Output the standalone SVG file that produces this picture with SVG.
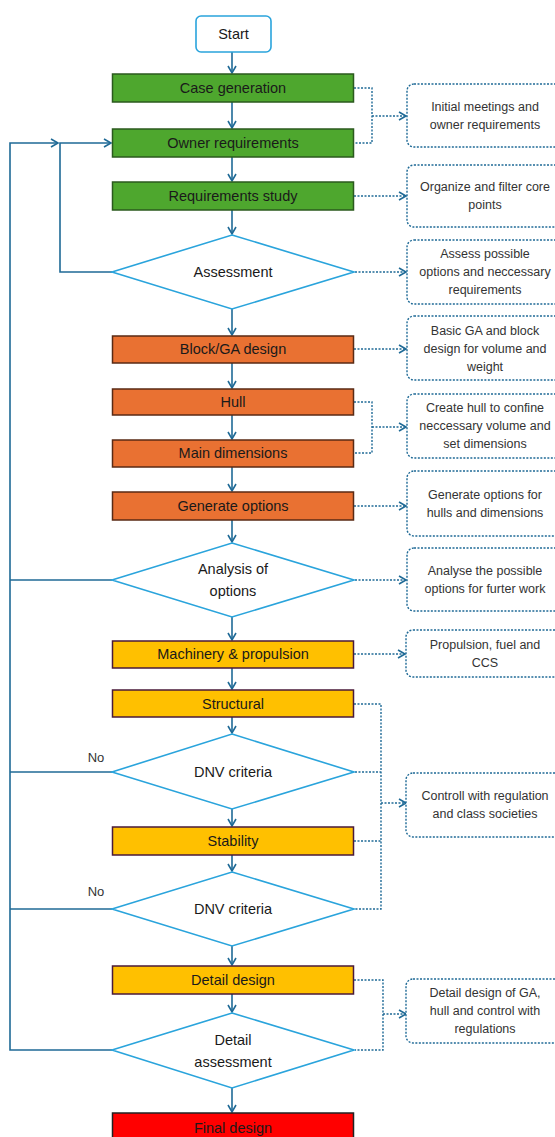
<svg xmlns="http://www.w3.org/2000/svg" width="555" height="1137" viewBox="0 0 555 1137">
<style>
text{font-family:"Liberation Sans",Arial,sans-serif;fill:#1a1a1a;text-anchor:middle}
.t{font-size:14.5px}
.n{font-size:12.5px;fill:#333}
.g{fill:#4ea72e;stroke:#2b5a1e;stroke-width:1.5}
.o{fill:#e97132;stroke:#5a2a14;stroke-width:1.5}
.y{fill:#ffc000;stroke:#4a1a3a;stroke-width:1.5}
.r{fill:#ff0000;stroke:#222;stroke-width:1.5}
.d{fill:#fff;stroke:#2aa4dc;stroke-width:1.6}
.note{fill:#fff;stroke:#1f6a96;stroke-width:1.4;stroke-dasharray:2 1.5}
.c{fill:none;stroke:#1f6a96;stroke-width:1.6}
.dc{fill:none;stroke:#1f6a96;stroke-width:1.4;stroke-dasharray:2 1.5}
</style>
<defs>
<marker id="a" markerUnits="userSpaceOnUse" markerWidth="12" markerHeight="12" refX="8" refY="5" orient="auto">
<path d="M1,1 L8,5 L1,9" fill="none" stroke="#1f6a96" stroke-width="1.6"/>
</marker>
</defs>
<g id="connectors">
<path class="c" marker-end="url(#a)" d="M232,52 V73"/>
<path class="c" marker-end="url(#a)" d="M232,102 V128"/>
<path class="c" marker-end="url(#a)" d="M232,157 V181"/>
<path class="c" marker-end="url(#a)" d="M232,210 V234"/>
<path class="c" marker-end="url(#a)" d="M232,309 V335"/>
<path class="c" marker-end="url(#a)" d="M232,363 V388"/>
<path class="c" marker-end="url(#a)" d="M232,415 V439"/>
<path class="c" marker-end="url(#a)" d="M232,467 V491"/>
<path class="c" marker-end="url(#a)" d="M232,520 V542"/>
<path class="c" marker-end="url(#a)" d="M232,617 V640"/>
<path class="c" marker-end="url(#a)" d="M232,668 V689"/>
<path class="c" marker-end="url(#a)" d="M232,717 V733"/>
<path class="c" marker-end="url(#a)" d="M232,809 V826"/>
<path class="c" marker-end="url(#a)" d="M232,855 V871"/>
<path class="c" marker-end="url(#a)" d="M232,946 V965"/>
<path class="c" marker-end="url(#a)" d="M232,994 V1012"/>
<path class="c" marker-end="url(#a)" d="M232,1088 V1112"/>
<path class="c" marker-end="url(#a)" d="M112,272 H60 V143 H111"/>
<path class="c" marker-end="url(#a)" d="M112,1050 H10 V143 H58"/>
<path class="c" d="M112,580 H10"/>
<path class="c" d="M112,772 H10"/>
<path class="c" d="M112,909 H10"/>
<path class="dc" d="M354,88 H372 V143 H354"/>
<path class="dc" marker-end="url(#a)" d="M372,116 H406"/>
<path class="dc" marker-end="url(#a)" d="M354,196 H406"/>
<path class="dc" marker-end="url(#a)" d="M355,272 H406"/>
<path class="dc" marker-end="url(#a)" d="M354,349 H406"/>
<path class="dc" d="M354,402 H372 V453 H354"/>
<path class="dc" marker-end="url(#a)" d="M372,427 H406"/>
<path class="dc" marker-end="url(#a)" d="M354,506 H406"/>
<path class="dc" marker-end="url(#a)" d="M355,580 H406"/>
<path class="dc" marker-end="url(#a)" d="M354,654 H405"/>
<path class="dc" d="M354,704 H381 V909 H355 M355,772 H381 M354,841 H381"/>
<path class="dc" marker-end="url(#a)" d="M381,803 H406"/>
<path class="dc" d="M354,980 H383 V1050 H355"/>
<path class="dc" marker-end="url(#a)" d="M383,1014 H406"/>
</g>
<g id="start"><rect x="196" y="16" width="75" height="36" rx="5" class="d"/><text class="t" x="233.5" y="39">Start</text></g>
<g id="case"><rect x="112.5" y="74" width="241" height="28" class="g"/><text class="t" x="233" y="93">Case generation</text></g>
<g id="owner"><rect x="112.5" y="129" width="241" height="28" class="g"/><text class="t" x="233" y="148">Owner requirements</text></g>
<g id="reqstudy"><rect x="112.5" y="182" width="241" height="28" class="g"/><text class="t" x="233" y="201">Requirements study</text></g>
<g id="assessment"><polygon points="232,235 354,272 232,309 112,272" class="d"/><text class="t" x="233" y="277">Assessment</text></g>
<g id="block"><rect x="112.5" y="336" width="241" height="27" class="o"/><text class="t" x="233" y="354">Block/GA design</text></g>
<g id="hull"><rect x="112.5" y="389" width="241" height="26" class="o"/><text class="t" x="233" y="407">Hull</text></g>
<g id="maindim"><rect x="112.5" y="440" width="241" height="27" class="o"/><text class="t" x="233" y="458">Main dimensions</text></g>
<g id="genopt"><rect x="112.5" y="492" width="241" height="28" class="o"/><text class="t" x="233" y="511">Generate options</text></g>
<g id="analysis"><polygon points="232,543 354,580 232,617 112,580" class="d"/><text class="t" x="233" y="574">Analysis of</text><text class="t" x="233" y="596">options</text></g>
<g id="machinery"><rect x="112.5" y="641" width="241" height="27" class="y"/><text class="t" x="233" y="659">Machinery &amp; propulsion</text></g>
<g id="structural"><rect x="112.5" y="690" width="241" height="27" class="y"/><text class="t" x="233" y="709">Structural</text></g>
<g id="dnv1"><polygon points="232,734 354,772 232,809 112,772" class="d"/><text class="t" x="233" y="777">DNV criteria</text><text class="n" x="96" y="762" style="font-size:13px">No</text></g>
<g id="stability"><rect x="112.5" y="827" width="241" height="28" class="y"/><text class="t" x="233" y="846">Stability</text></g>
<g id="dnv2"><polygon points="232,872 354,909 232,946 112,909" class="d"/><text class="t" x="233" y="914">DNV criteria</text><text class="n" x="96" y="896" style="font-size:13px">No</text></g>
<g id="detaildesign"><rect x="112.5" y="966" width="241" height="28" class="y"/><text class="t" x="233" y="985">Detail design</text></g>
<g id="detailassess"><polygon points="232,1013 354,1050 232,1088 112,1050" class="d"/><text class="t" x="233" y="1045">Detail</text><text class="t" x="233" y="1067">assessment</text></g>
<g id="final"><rect x="112.5" y="1113" width="241" height="30" class="r"/><text class="t" x="233" y="1133">Final design</text></g>
<g id="note1"><rect x="407" y="84" width="156" height="63" rx="7" class="note"/><text class="n" x="485" y="111">Initial meetings and</text><text class="n" x="485" y="129">owner requirements</text></g>
<g id="note2"><rect x="407" y="165" width="156" height="62" rx="7" class="note"/><text class="n" x="485" y="191">Organize and filter core</text><text class="n" x="485" y="209">points</text></g>
<g id="note3"><rect x="407" y="240" width="156" height="64" rx="7" class="note"/><text class="n" x="485" y="258">Assess possible</text><text class="n" x="485" y="276">options and neccessary</text><text class="n" x="485" y="294">requirements</text></g>
<g id="note4"><rect x="407" y="316" width="156" height="64" rx="7" class="note"/><text class="n" x="485" y="335">Basic GA and block</text><text class="n" x="485" y="353">design for volume and</text><text class="n" x="485" y="371">weight</text></g>
<g id="note5"><rect x="407" y="394" width="156" height="64" rx="7" class="note"/><text class="n" x="485" y="412">Create hull to confine</text><text class="n" x="485" y="430">neccessary volume and</text><text class="n" x="485" y="448">set dimensions</text></g>
<g id="note6"><rect x="407" y="471" width="156" height="65" rx="7" class="note"/><text class="n" x="485" y="499">Generate options for</text><text class="n" x="485" y="517">hulls and dimensions</text></g>
<g id="note7"><rect x="407" y="548" width="156" height="63" rx="7" class="note"/><text class="n" x="485" y="575">Analyse the possible</text><text class="n" x="485" y="593">options for furter work</text></g>
<g id="note8"><rect x="406" y="630" width="157" height="47" rx="7" class="note"/><text class="n" x="485" y="649">Propulsion, fuel and</text><text class="n" x="485" y="667">CCS</text></g>
<g id="note9"><rect x="406" y="773" width="157" height="64" rx="7" class="note"/><text class="n" x="485" y="800">Controll with regulation</text><text class="n" x="485" y="818">and class societies</text></g>
<g id="note10"><rect x="406" y="979" width="157" height="64" rx="7" class="note"/><text class="n" x="485" y="997">Detail design of GA,</text><text class="n" x="485" y="1015">hull and control with</text><text class="n" x="485" y="1033">regulations</text></g>
</svg>
